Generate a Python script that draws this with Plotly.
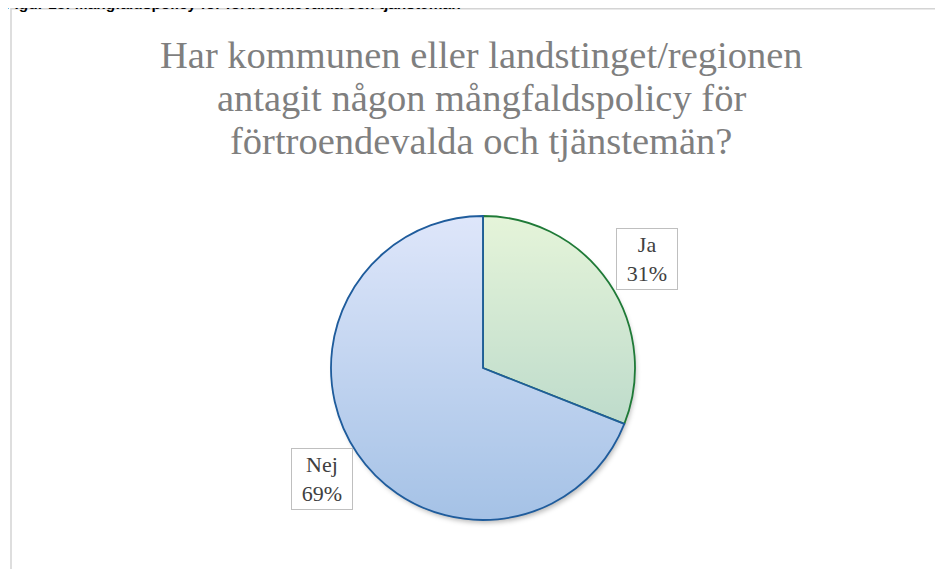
import base64
import plotly.graph_objects as go

# ---- data ----
labels = ["Ja", "Nej"]
values = [31, 69]
title_lines = ["Har kommunen eller landstinget/regionen",
               "antagit någon mångfaldspolicy för",
               "förtroendevalda och tjänstemän?"]
figure_caption = "Figur 13: Mångfaldspolicy för förtroendevalda och tjänstemän"

W, H = 943, 569
OFF = 8  # page body margin
CX, CY, R = 483 - OFF, 368 - OFF, 152

def px(x):
    return x / W

def py(y):
    return 1 - y / H

# gradient underlay (decoration) with soft shadow
svg = f'''<svg xmlns="http://www.w3.org/2000/svg" width="320" height="320" viewBox="0 0 320 320">
<defs>
<linearGradient id="g" x1="0" y1="8" x2="0" y2="312" gradientUnits="userSpaceOnUse">
<stop offset="0" stop-color="rgb(255,255,255)"/>
<stop offset="1" stop-color="rgb(140,182,214)"/>
</linearGradient>
<filter id="b" x="-10%" y="-10%" width="120%" height="120%"><feGaussianBlur stdDeviation="2.5"/></filter>
</defs>
<circle cx="162" cy="164" r="151" fill="rgb(0,0,0)" fill-opacity="0.28" filter="url(#b)"/>
<circle cx="160" cy="160" r="152.5" fill="url(#g)"/>
</svg>'''
src = "data:image/svg+xml;base64," + base64.b64encode(svg.encode()).decode()

fig = go.Figure()
fig.add_trace(go.Pie(
    labels=labels,
    values=values,
    sort=False,
    direction="clockwise",
    rotation=0,
    textinfo="none",
    hoverinfo="label+percent",
    showlegend=False,
    marker=dict(
        colors=["rgba(204,234,180,0.5)", "rgba(189,205,245,0.5)"],
        line=dict(color=["#1f7a37", "#1f5c9c"], width=1.8),
    ),
    domain=dict(x=[px(CX - R), px(CX + R)], y=[py(CY + R), py(CY - R)]),
))

fig.add_layout_image(dict(
    source=src, xref="paper", yref="paper",
    x=px(CX - 160), y=py(CY - 160), sizex=320 / W, sizey=320 / H,
    xanchor="left", yanchor="top", sizing="stretch", layer="below",
))

annotations = []
# title, one annotation per line to keep the tight line spacing
title_y = [55 - OFF, 98 - OFF, 141 - OFF]
for line, ty in zip(title_lines, title_y):
    annotations.append(dict(
        text=line, x=px(481 - OFF), y=py(ty), xref="paper", yref="paper",
        xanchor="center", yanchor="middle", showarrow=False,
        font=dict(family="Liberation Serif", size=38.5, color="#7f7f7f"),
    ))
# clipped caption at very top (only its lower part is visible, as in the source)
annotations.append(dict(
    text="<b>" + figure_caption + "</b>", x=px(-5), y=py(-4.5), xref="paper", yref="paper",
    xanchor="left", yanchor="middle", showarrow=False,
    font=dict(family="Liberation Sans", size=15.5, color="#000000"),
))
# data labels
total = sum(values)
label_pos = [(646.5 - OFF, 259 - OFF), (322 - OFF, 479 - OFF)]
for lab, val, (lx, ly) in zip(labels, values, label_pos):
    annotations.append(dict(
        text=f"{lab}<br>{round(100 * val / total)}%", x=px(lx), y=py(ly),
        xref="paper", yref="paper", xanchor="center", yanchor="middle",
        showarrow=False, bgcolor="white", bordercolor="#bfbfbf", borderwidth=1,
        borderpad=6, width=48, height=48,
        font=dict(family="Liberation Serif", size=22, color="#404040"),
    ))

fig.update_layout(
    width=W, height=H,
    margin=dict(l=0, r=0, t=0, b=0),
    paper_bgcolor="white", plot_bgcolor="white",
    annotations=annotations,
    shapes=[dict(type="rect", xref="paper", yref="paper",
                 x0=px(11 - OFF), y0=py(8.75 - OFF), x1=px(W + 10), y1=py(H + 10),
                 line=dict(color="#d4d4d4", width=1.5), fillcolor="rgba(0,0,0,0)",
                 layer="below")],
)

fig.write_html("out.html")
